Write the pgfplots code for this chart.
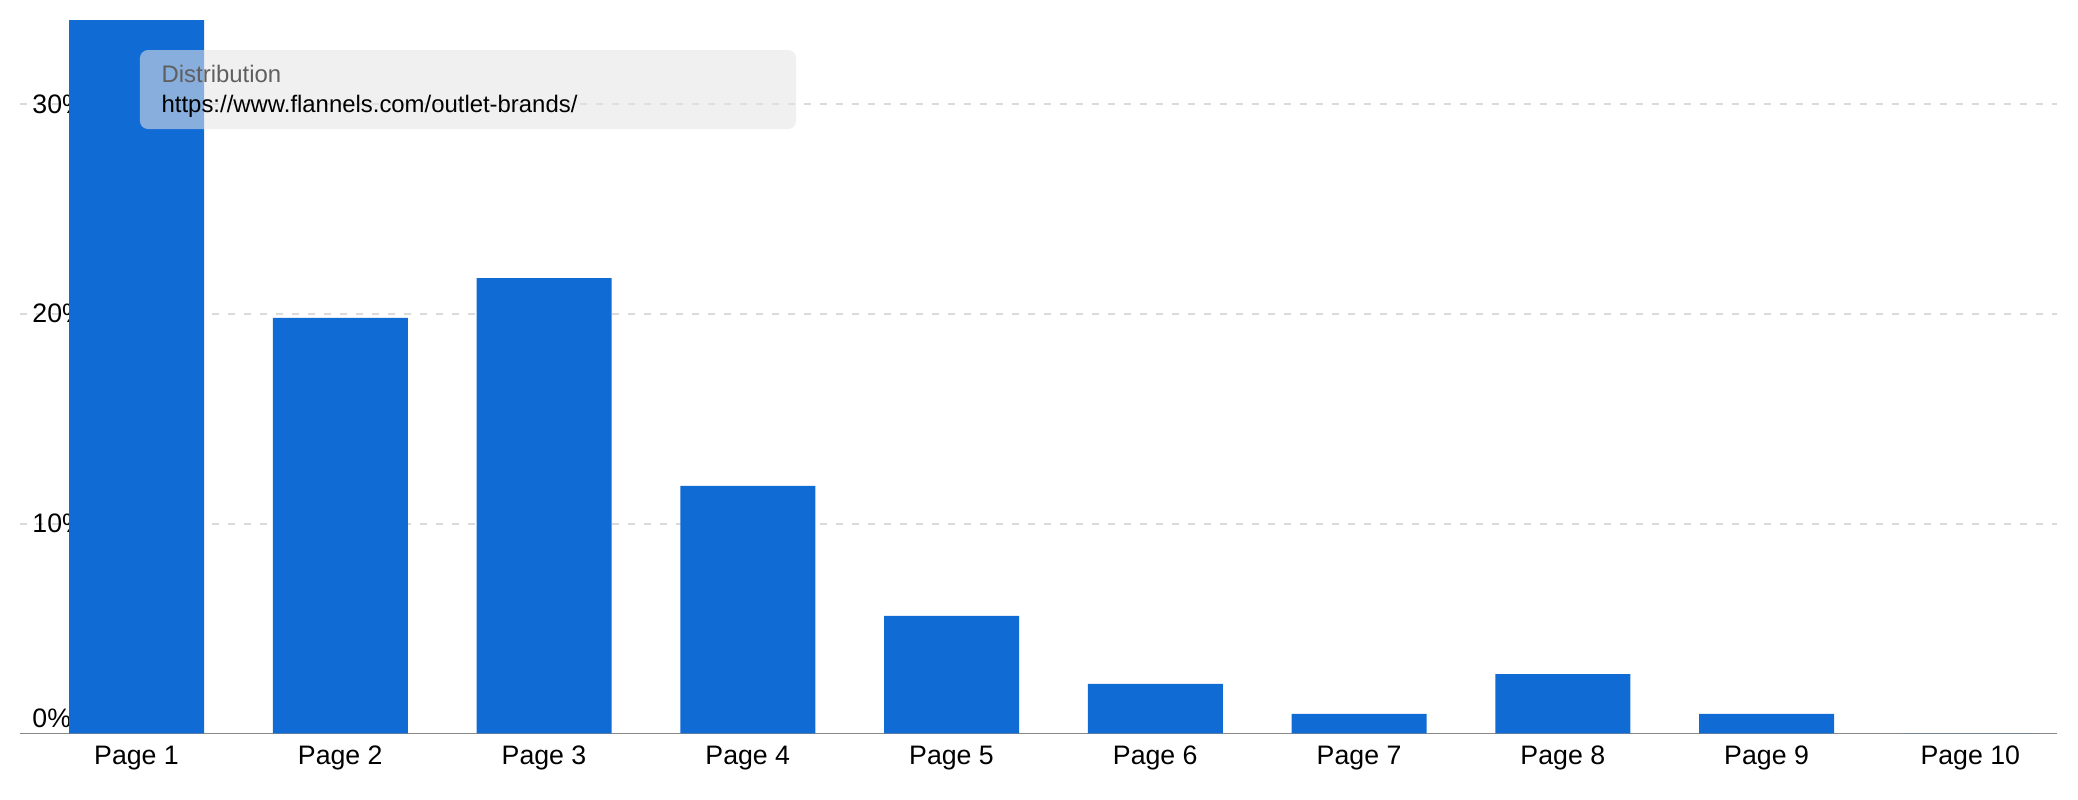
\documentclass[border=0pt]{standalone}
\usepackage{pgfplots}
\pgfplotsset{compat=1.18}
\usepackage{fontspec}
\setmainfont{Liberation Sans}
\definecolor{barblue}{HTML}{116BD4}
\definecolor{gridgray}{HTML}{DADADA}
\definecolor{axisgray}{HTML}{888888}
\definecolor{tipfill}{HTML}{E4E4E4}
\definecolor{tipgray}{HTML}{5F5F5F}
\begin{document}
\begin{tikzpicture}
\begin{axis}[
  set layers,
  scale only axis,
  width=20.37cm, height=7.135cm,
  xmin=-0.572, xmax=9.4255,
  ymin=0, ymax=34,
  axis x line*=bottom,
  axis y line*=left,
  x axis line style={-,draw=axisgray,line width=0.55pt},
  y axis line style={-,draw=none},
  major tick length=0pt,
  xtick={0,...,9},
  xticklabels={Page 1,Page 2,Page 3,Page 4,Page 5,Page 6,Page 7,Page 8,Page 9,Page 10},
  ytick={10,20,30},
  yticklabels={10\%,20\%,30\%},
  extra y ticks={0},
  extra y tick labels={0\%},
  extra y tick style={grid=none,yticklabel style={anchor=base west,yshift=1.6pt}},
  ymajorgrids,
  major grid style={draw=gridgray,line width=0.5pt,dash pattern=on 0.073cm off 0.087cm},
  ticklabel style={font=\fontsize{7.6}{9}\selectfont,text=black},
  yticklabel style={anchor=west},
  clip=false,
]
\addplot[ybar,bar width=0.663,fill=barblue,draw=none] coordinates {
(0,34.0)
(1,19.8)
(2,21.7)
(3,11.8)
(4,5.6)
(5,2.36)
(6,0.93)
(7,2.83)
(8,0.93)
(9,0)
};
\fill[tipfill,fill opacity=0.56,rounded corners=0.08cm]
  (rel axis cs:0.0589,0.9579) rectangle (rel axis cs:0.3810,0.8472);
\node[anchor=base west,inner sep=0,text=tipgray,font=\fontsize{6.8}{8}\selectfont]
  at (rel axis cs:0.0692,0.9131) {Distribution};
\node[anchor=base west,inner sep=0,text=black,font=\fontsize{6.8}{8}\selectfont]
  at (rel axis cs:0.0692,0.8697) {https://www.flannels.com/outlet-brands/};
\end{axis}
\path ([shift={(-0.20cm,-0.665cm)}]current axis.south west) rectangle ([shift={(0.21cm,0.20cm)}]current axis.north east);
\end{tikzpicture}
\end{document}
